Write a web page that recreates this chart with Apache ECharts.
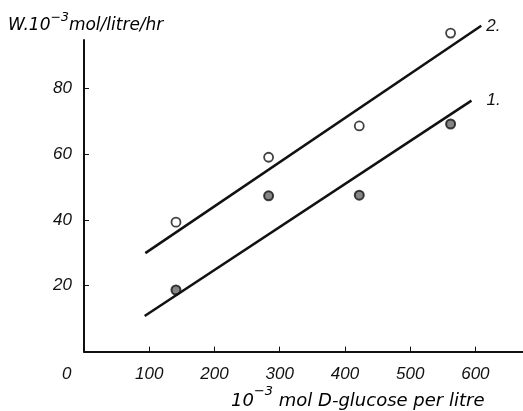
<!DOCTYPE html>
<html><head><meta charset="utf-8">
<script src="https://cdn.jsdelivr.net/npm/echarts@6/dist/echarts.min.js"></script>
<style>html,body{margin:0;padding:0;background:#fff}#c{width:523px;height:411px}</style>
</head><body><div id="c"></div>
<script>
const glucose = [141, 283, 422, 562];
const rate2 = [39.3, 59.0, 68.5, 96.7];   // curve 2, open circles
const rate1 = [18.7, 47.3, 47.5, 69.1];   // curve 1, filled circles
const fit2X = [94, 609], fit2Y = [29.9, 98.9];
const fit1X = [93, 594], fit1Y = [10.8, 76.2];
const xTicks = [100, 200, 300, 400, 500, 600];
const yTicks = [20, 40, 60, 80];
const zip = (a, b) => a.map((v, i) => [v, b[i]]);

const FONT = 'Liberation Sans';
const NFONT = 'DejaVu Sans';
const INK = '#111';
const chart = echarts.init(document.getElementById('c'), null, {renderer: 'canvas'});
const lbl = {fontFamily: FONT, fontStyle: 'italic', fontSize: 17, color: INK};

chart.setOption({
  animation: false,
  backgroundColor: '#fff',
  grid: {left: 84, top: 40, width: 439, height: 311.6},
  xAxis: {
    type: 'value', min: 0, max: 673,
    axisLine: {lineStyle: {color: INK, width: 2}},
    axisTick: {inside: true, length: 5, customValues: xTicks, lineStyle: {color: INK, width: 1}},
    axisLabel: Object.assign({customValues: xTicks, margin: 14}, lbl),
    splitLine: {show: false}
  },
  yAxis: {
    type: 'value', min: 0, max: 94.6,
    axisLine: {show: true, lineStyle: {color: INK, width: 2}},
    axisTick: {show: true, inside: true, length: 5, customValues: yTicks, lineStyle: {color: INK, width: 1}},
    axisLabel: Object.assign({customValues: yTicks, margin: 12}, lbl),
    splitLine: {show: false}
  },
  graphic: [
    {type: 'text', left: 62, top: 366, style: {text: '0', font: 'italic 17px "' + FONT + '"', fill: INK}},
    {type: 'text', left: 231, top: 385, style: {
      text: '{a|10}{s|−3}{a| mol D-glucose per litre}',
      rich: {
        a: {fontFamily: NFONT, fontStyle: 'italic', fontSize: 18, color: INK, lineHeight: 25, verticalAlign: 'bottom'},
        s: {fontFamily: NFONT, fontStyle: 'italic', fontSize: 13, color: INK, lineHeight: 25, verticalAlign: 'top'}
      }
    }},
    {type: 'text', left: 8, top: 11, style: {
      text: '{a|W.10}{s|−3}{a|mol/litre/hr}',
      rich: {
        a: {fontFamily: NFONT, fontStyle: 'italic', fontSize: 17, color: INK, lineHeight: 23, verticalAlign: 'bottom'},
        s: {fontFamily: NFONT, fontStyle: 'italic', fontSize: 12.5, color: INK, lineHeight: 23, verticalAlign: 'top'}
      }
    }}
  ],
  series: [
    {type: 'line', data: zip(fit2X, fit2Y), symbol: 'none', clip: false, lineStyle: {color: INK, width: 2.5},
     endLabel: {show: true, formatter: '2.', distance: 5, fontFamily: FONT, fontStyle: 'italic', fontSize: 17, color: INK}},
    {type: 'line', data: zip(fit1X, fit1Y), symbol: 'none', clip: false, lineStyle: {color: INK, width: 2.5},
     endLabel: {show: true, formatter: '1.', distance: 15, fontFamily: FONT, fontStyle: 'italic', fontSize: 17, color: INK}},
    {type: 'scatter', data: zip(glucose, rate2), symbol: 'circle', symbolSize: 9, clip: false,
     itemStyle: {color: '#fff', borderColor: INK, borderWidth: 1.8}},
    {type: 'scatter', data: zip(glucose, rate1), symbol: 'circle', symbolSize: 9, clip: false,
     itemStyle: {color: '#666', borderColor: INK, borderWidth: 2}}
  ]
});
</script></body></html>
